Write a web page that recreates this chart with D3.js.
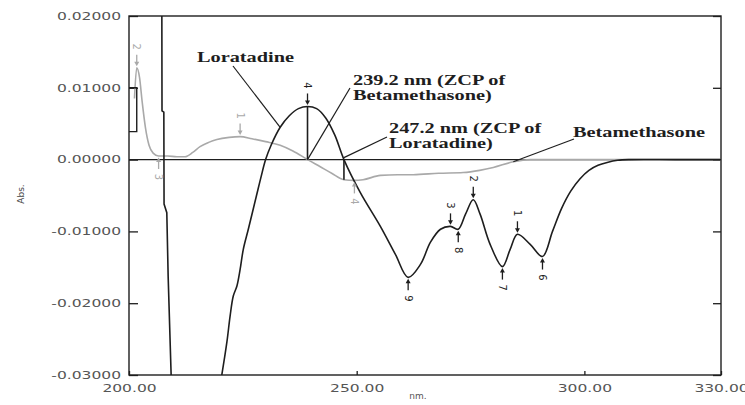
<!DOCTYPE html>
<html>
<head>
<meta charset="utf-8">
<script src="https://cdn.jsdelivr.net/npm/d3@7"></script>
<style>
  body { margin: 0; background: #fff; }
  svg { display: block; }
</style>
</head>
<body>
<svg id="chart" width="745" height="405"></svg>
<script>
// ---- Derivative spectra data (wavelength in nm, absorbance) ----
const xTicks = [200, 250, 300, 330];
const yTicks = [0.02, 0.01, 0, -0.01, -0.02, -0.03];

// Loratadine trace: short start segment, steep low-wavelength branch, main branch
const loratadineStartWl  = [200, 201.7, 201.7, 200];
const loratadineStartAbs = [0.01, 0.01, 0.0039, 0.0039];

const loratadineLowWl  = [207.2, 207.25, 207.65, 207.7, 208.3, 208.6, 209.3];
const loratadineLowAbs = [0.025, 0.0068, 0.0066, -0.0062, -0.0074, -0.0163, -0.031];

const loratadineWl = [220.1, 220.4, 221.5, 222.2, 222.9, 223.7, 224.4, 225.1, 226.2, 228.0,
  229.0, 230.0, 231.2, 233.2, 235.2, 237.2, 239.2, 241.2, 243.2, 245.2, 247.2,
  250.8, 255.2, 258.5, 261.3, 264.0, 266.2, 268.4, 270.6, 272.3, 273.9,
  275.6, 277.1, 279.3, 282.0, 283.7, 285.3, 288.1, 290.8, 293.0, 295.0,
  297.0, 299.0, 301.0, 303.0, 305.0, 307.3, 310.0, 320.0, 330.0];
const loratadineAbs = [-0.0310, -0.0299, -0.0254, -0.0218, -0.0190, -0.0176, -0.0153, -0.0125, -0.0097, -0.0050,
  -0.0024, 0.0000, 0.0020, 0.0045, 0.0061, 0.0071, 0.0074, 0.0071, 0.0058, 0.0034, 0.0000,
  -0.0046, -0.0093, -0.0132, -0.0164, -0.0146, -0.0115, -0.0097, -0.0093, -0.0097, -0.0076,
  -0.0056, -0.0076, -0.0118, -0.0149, -0.0125, -0.0104, -0.0118, -0.0135, -0.0100, -0.0068,
  -0.0044, -0.0027, -0.0015, -0.0008, -0.0004, -0.0001, 0.0000, 0.0000, 0.0000];

// Betamethasone trace
const betamethasoneWl = [201.2, 201.7, 202.3, 202.9, 203.6, 204.4, 205.3, 206.5, 208.5, 210.5,
  212.3, 214.0, 215.6, 217.5, 219.3, 222.0, 224.4, 227.0, 230.0, 233.2,
  236.0, 239.2, 242.0, 244.5, 247.2, 249.5, 251.4, 255.2, 259.0, 262.4,
  268.0, 273.4, 277.0, 280.0, 284.4, 288.1, 330.0];
const betamethasoneAbs = [0.0085, 0.0128, 0.0115, 0.0080, 0.0045, 0.0020, 0.0009, 0.0005, 0.0005, 0.0004,
  0.0004, 0.0010, 0.0018, 0.0024, 0.0028, 0.0031, 0.0032, 0.0029, 0.0025, 0.0020,
  0.0012, 0.0000, -0.0010, -0.0019, -0.0028, -0.0029, -0.0028, -0.0022, -0.0021, -0.0021,
  -0.0019, -0.0018, -0.0015, -0.0011, -0.0003, 0.0000, 0.0000];

// Numbered peak / trough picks
const loratadinePeakWl     = [285.3, 275.6, 270.6, 239.2];
const loratadinePeakLabel  = ["1", "2", "3", "4"];
const loratadineTroughWl    = [290.8, 282.0, 272.3, 261.3];
const loratadineTroughLabel = ["6", "7", "8", "9"];
const betamethasonePeakWl     = [224.4, 201.7];
const betamethasonePeakLabel  = ["1", "2"];
const betamethasoneTroughWl    = [206.5, 249.5];
const betamethasoneTroughLabel = ["3", "4"];

// Zero-crossing wavelengths
const zcpBetamethasone = 239.2;
const zcpLoratadine = 247.2;

// ---- Layout ----
const svg = d3.select("#chart");
const x = d3.scaleLinear().domain([200, 330]).range([129, 721]);
const y = d3.scaleLinear().domain([-0.03, 0.02]).range([375, 16]);
const [x0, x1] = x.range();
const [yB, yT] = y.range();

const BLACK = "#1e1e1e", GREY = "#a9a9a9", TICKTXT = "#555";
const SANS = "'DejaVu Sans', Verdana, sans-serif";
const SERIF = "'Liberation Serif', 'Times New Roman', serif";

const zip = (a, b) => a.map((v, i) => [v, b[i]]);
const absAt = (wl, abs, w) => abs[wl.indexOf(w)];

// widen text horizontally by factor k
function stretch(sel, k) {
  sel.each(function () {
    const L = this.getComputedTextLength();
    d3.select(this).attr("textLength", L * k).attr("lengthAdjust", "spacingAndGlyphs");
  });
}

svg.append("rect").attr("width", 745).attr("height", 405).attr("fill", "#fff");

svg.append("defs").append("clipPath").attr("id", "plot")
  .append("rect").attr("x", x0).attr("y", yT).attr("width", x1 - x0).attr("height", yB - yT);

// ---- Axes ----
const fmtY = v => d3.format(".5f")(v).replace("\u2212", "-");

const gl = svg.append("g").attr("transform", `translate(${x0},0)`)
  .call(d3.axisLeft(y).tickValues(yTicks).tickSize(-9).tickPadding(8).tickFormat(fmtY));
const gr = svg.append("g").attr("transform", `translate(${x1},0)`)
  .call(d3.axisRight(y).tickValues(yTicks).tickSize(-8).tickFormat(""));
const gb = svg.append("g").attr("transform", `translate(0,${yB})`)
  .call(d3.axisBottom(x).tickValues(xTicks).tickSize(-4).tickPadding(10).tickFormat(d3.format(".2f")));

[gl, gr, gb].forEach(g => {
  g.select(".domain").remove();
  g.selectAll(".tick line").attr("stroke", BLACK).attr("stroke-width", 1.3);
  g.selectAll(".tick text").attr("fill", TICKTXT).style("font-family", SANS).style("font-size", "10px");
});
stretch(gl.selectAll(".tick text"), 1.55);
stretch(gb.selectAll(".tick text"), 1.55);

// frame
svg.append("rect").attr("x", x0).attr("y", yT).attr("width", x1 - x0).attr("height", yB - yT)
  .attr("fill", "none").attr("stroke", BLACK).attr("stroke-width", 1.4);

// zero line
svg.append("line").attr("x1", x0).attr("x2", x1).attr("y1", y(0)).attr("y2", y(0))
  .attr("stroke", BLACK).attr("stroke-width", 1.2);

// axis titles
svg.append("text").attr("transform", "translate(24,194) rotate(-90)")
  .attr("text-anchor", "middle").attr("fill", "#444").style("font-family", SANS).style("font-size", "9px")
  .text("Abs.");
svg.append("text").attr("x", 418).attr("y", 399)
  .attr("text-anchor", "middle").attr("fill", "#555").style("font-family", SANS).style("font-size", "9px")
  .text("nm.");

// ---- Curves ----
const plot = svg.append("g").attr("clip-path", "url(#plot)");
const smooth = d3.line().x(d => x(d[0])).y(d => y(d[1])).curve(d3.curveCatmullRom.alpha(0.5));
const monotone = d3.line().x(d => x(d[0])).y(d => y(d[1])).curve(d3.curveMonotoneX);
const straight = d3.line().x(d => x(d[0])).y(d => y(d[1]));

plot.append("path").datum(zip(betamethasoneWl, betamethasoneAbs))
  .attr("d", monotone).attr("fill", "none").attr("stroke", GREY).attr("stroke-width", 1.6);

plot.append("path").datum(zip(loratadineStartWl, loratadineStartAbs))
  .attr("d", straight).attr("fill", "none").attr("stroke", BLACK).attr("stroke-width", 1.4);
plot.append("path").datum(zip(loratadineLowWl, loratadineLowAbs))
  .attr("d", straight).attr("fill", "none").attr("stroke", BLACK).attr("stroke-width", 1.6);
plot.append("path").datum(zip(loratadineWl, loratadineAbs))
  .attr("d", smooth).attr("fill", "none").attr("stroke", BLACK).attr("stroke-width", 1.6);

// ---- Zero-crossing verticals ----
const lorAtZcp = absAt(loratadineWl, loratadineAbs, zcpBetamethasone);
const betaAtZcp = absAt(betamethasoneWl, betamethasoneAbs, zcpLoratadine);
svg.append("line").attr("x1", x(zcpBetamethasone)).attr("x2", x(zcpBetamethasone))
  .attr("y1", y(0)).attr("y2", y(lorAtZcp)).attr("stroke", BLACK).attr("stroke-width", 1.6);
svg.append("line").attr("x1", x(zcpLoratadine)).attr("x2", x(zcpLoratadine))
  .attr("y1", y(0)).attr("y2", y(betaAtZcp)).attr("stroke", BLACK).attr("stroke-width", 1.6);

// ---- Peak / trough markers ----
function markers(wl, abs, picks, labels, isPeak, color) {
  const g = svg.append("g");
  picks.forEach((w, i) => {
    const px = x(w), py = y(absAt(wl, abs, w));
    const s = isPeak ? -1 : 1;
    g.append("line").attr("x1", px).attr("x2", px)
      .attr("y1", py + s * 4).attr("y2", py + s * 13)
      .attr("stroke", color).attr("stroke-width", 1.3);
    g.append("path")
      .attr("d", `M${px},${py + s * 1.5} L${px - 2.5},${py + s * 6} L${px + 2.5},${py + s * 6} Z`)
      .attr("fill", color);
    g.append("text")
      .attr("transform", `translate(${px},${py + s * 21}) rotate(90)`)
      .attr("text-anchor", "middle").attr("dy", "0.35em")
      .attr("fill", color).style("font-family", SANS).style("font-size", "10px")
      .text(labels[i]);
  });
}
markers(loratadineWl, loratadineAbs, loratadinePeakWl, loratadinePeakLabel, true, BLACK);
markers(loratadineWl, loratadineAbs, loratadineTroughWl, loratadineTroughLabel, false, BLACK);
markers(betamethasoneWl, betamethasoneAbs, betamethasonePeakWl, betamethasonePeakLabel, true, GREY);
markers(betamethasoneWl, betamethasoneAbs, betamethasoneTroughWl, betamethasoneTroughLabel, false, GREY);

// ---- Annotations ----
const ann = svg.append("g").attr("fill", BLACK)
  .style("font-family", SERIF).style("font-size", "14px").style("font-weight", "bold");
function leader(px, py, qx, qy) {
  svg.append("line").attr("x1", px).attr("y1", py).attr("x2", qx).attr("y2", qy)
    .attr("stroke", BLACK).attr("stroke-width", 1.2);
}

ann.append("text").attr("x", 197).attr("y", 62).text("Loratadine");
leader(233, 66, x(233.2), y(absAt(loratadineWl, loratadineAbs, 233.2)));

ann.append("text").attr("x", 353).attr("y", 85).text("239.2 nm (ZCP of");
ann.append("text").attr("x", 353).attr("y", 100).text("Betamethasone)");
leader(350, 88, x(zcpBetamethasone), y(0));

ann.append("text").attr("x", 389).attr("y", 133).text("247.2 nm (ZCP of");
ann.append("text").attr("x", 389).attr("y", 148).text("Loratadine)");
leader(387, 137, x(zcpLoratadine), y(0) - 2);

ann.append("text").attr("x", 573).attr("y", 137).text("Betamethasone");
leader(574, 139, x(284.4), y(absAt(betamethasoneWl, betamethasoneAbs, 284.4)));

stretch(ann.selectAll("text"), 1.45);
</script>
</body>
</html>
